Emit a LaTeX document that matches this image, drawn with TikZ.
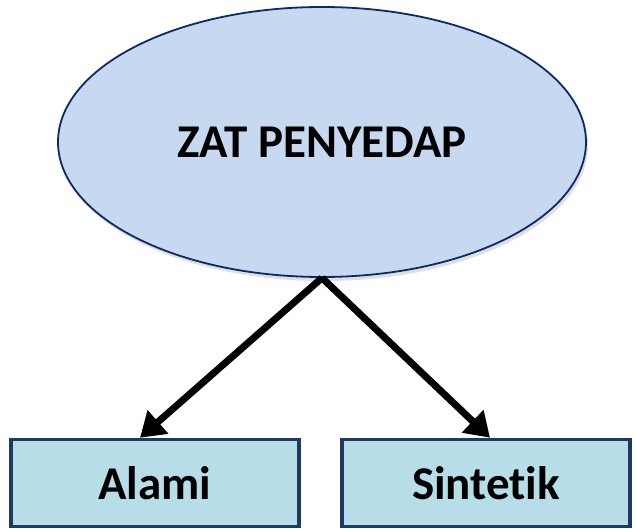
\documentclass[tikz,border=0pt]{standalone}
\usepackage{fontspec}
\setmainfont[Ligatures=NoCommon]{Carlito}
\usetikzlibrary{shapes.geometric,arrows.meta,shadows}
\definecolor{ovalfill}{HTML}{C6D9F1}
\definecolor{ovalline}{HTML}{0E2A66}
\definecolor{boxfill}{HTML}{B7DEE8}
\definecolor{boxline}{HTML}{1F3A60}
\tikzset{
  topic/.style={ellipse, draw=ovalline, line width=1.8pt, fill=ovalfill,
    minimum width=528pt, minimum height=270pt, inner sep=0pt,
    font=\fontsize{47}{56}\selectfont\bfseries,
    drop shadow={opacity=0.25, shadow xshift=2pt, shadow yshift=-4pt}},
  kind/.style={rectangle, draw=boxline, line width=3.5pt, fill=boxfill,
    minimum width=288pt, minimum height=87pt, inner sep=0pt,
    font=\fontsize{47}{56}\selectfont\bfseries},
  link/.style={line width=7pt, black,
    -{Triangle[length=24pt, width=30pt]}}
}
\begin{document}
\begin{tikzpicture}[x=1pt, y=-1pt]
  \useasboundingbox (0,0) rectangle (635,529);
  \node[topic] (zat) at (322,142) {ZAT PENYEDAP};
  \node[kind] (alami) at (155,483) {Alami};
  \node[kind] (sintetik) at (486,483) {Sintetik};
  \coordinate (alamitip) at ([xshift=-15pt]alami.north);
  \coordinate (sintip) at ([xshift=4pt]sintetik.north);
  \draw[link] (zat.south) -- (alamitip);
  \draw[link] (zat.south) -- (sintip);
\end{tikzpicture}
\end{document}
